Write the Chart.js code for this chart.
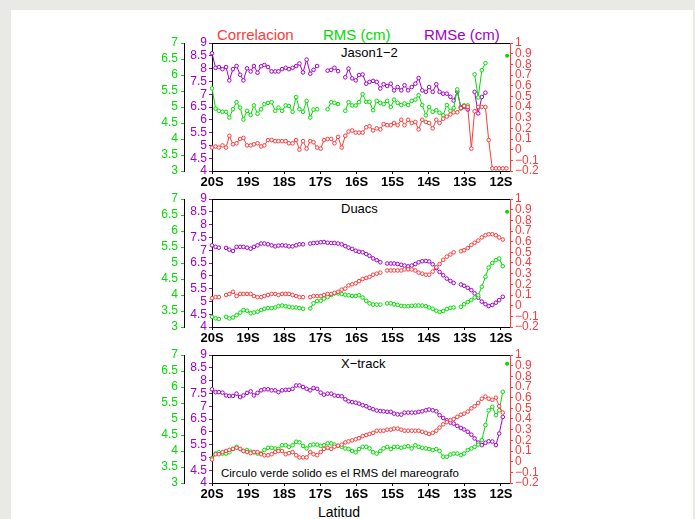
<!DOCTYPE html>
<html>
<head>
<meta charset="utf-8">
<script src="https://cdn.jsdelivr.net/npm/chart.js@4/dist/chart.umd.min.js"></script>
<style>
  body { margin: 0; background: #e9eae5; font-family: "Liberation Sans", Arial, sans-serif; }
  #sheet { position: absolute; left: 11px; top: 10px; width: 682px; height: 509px; background: #fff; }
  canvas { position: absolute; left: 140px; }
  .t { position: absolute; white-space: nowrap; line-height: 1; }
</style>
</head>
<body>
<div id="sheet"></div>
<div class="t" style="left:217px;top:27px;font-size:15px;color:rgb(250,60,60)">Correlacion</div>
<div class="t" style="left:323px;top:27px;font-size:15px;color:rgb(0,220,0)">RMS (cm)</div>
<div class="t" style="left:424px;top:27px;font-size:15px;color:rgb(160,0,200)">RMSe (cm)</div>
<div class="t" style="left:341px;top:46px;font-size:13px">Jason1−2</div>
<div class="t" style="left:341px;top:202px;font-size:13px">Duacs</div>
<div class="t" style="left:341px;top:357px;font-size:13px">X−track</div>
<div class="t" style="left:221px;top:468px;font-size:11.5px">Circulo verde solido es el RMS del mareografo</div>
<div class="t" style="left:318px;top:505px;font-size:14px">Latitud</div>
<canvas id="c1" width="415" height="164" style="top:31px"></canvas>
<canvas id="c2" width="415" height="164" style="top:187px"></canvas>
<canvas id="c3" width="415" height="164" style="top:343px"></canvas>
<script>
// latitude of each along-track point (degrees, negative = south)
const lat = [
  -20.00, -19.90, -19.81, -19.71, -19.61, -19.52, -19.42, -19.32, -19.22, -19.13,
  -19.03, -18.93, -18.84, -18.74, -18.64, -18.55, -18.45, -18.35, -18.25, -18.16,
  -18.06, -17.96, -17.87, -17.77, -17.67, -17.58, -17.48, -17.38, -17.28, -17.19,
  -17.09, -16.99, -16.90, -16.80, -16.70, -16.61, -16.51, -16.41, -16.31, -16.22,
  -16.12, -16.02, -15.93, -15.83, -15.73, -15.64, -15.54, -15.44, -15.34, -15.25,
  -15.15, -15.05, -14.96, -14.86, -14.76, -14.67, -14.57, -14.47, -14.37, -14.28,
  -14.18, -14.08, -13.99, -13.89, -13.79, -13.70, -13.60, -13.50, -13.40, -13.31,
  -13.21, -13.11, -13.02, -12.92, -12.82, -12.73, -12.63, -12.53, -12.43, -12.34,
  -12.24, -12.14, -12.05, -11.95, -11.85
];

const latTicks = [-20, -19, -18, -17, -16, -15, -14, -13, -12];
const rmseTicks = [4, 4.5, 5, 5.5, 6, 6.5, 7, 7.5, 8, 8.5, 9];
const rmsTicks = [3, 3.5, 4, 4.5, 5, 5.5, 6, 6.5, 7];
const corrTicks = [-0.2, -0.1, 0, 0.1, 0.2, 0.3, 0.4, 0.5, 0.6, 0.7, 0.8, 0.9, 1];

// Jason1-2
const jasonRmse = [
  8.60, 8.03, 8.06, 7.98, 8.06, 7.54, 7.98, 8.10, 7.76, 7.54,
  8.01, 7.89, 8.10, 7.84, 8.09, 8.14, 8.06, 7.89, 7.89, 7.89,
  7.98, 8.03, 7.98, 8.03, 8.10, 8.20, 7.85, 8.35, 7.80, 7.95,
  8.10, null, null, 7.92, 7.95, 8.03, 7.90, null, 7.66, 8.00,
  7.62, 7.54, 7.75, 7.77, 7.41, 7.48, 7.52, 7.48, 7.22, 7.39,
  7.32, 7.41, 7.15, 7.28, 7.15, 7.35, 7.15, 7.28, 7.41, 7.63,
  7.15, 7.09, 7.28, 7.09, 7.39, 7.09, 7.02, 7.02, 6.90, 6.75,
  7.10, 6.50, 6.50, 6.40, null, 7.09, 6.25, 6.89, 7.06, null,
  null, null, null, null, null
];
const jasonRms = [
  5.58, 4.95, 4.88, 4.85, 4.85, 4.67, 4.93, 5.15, 4.98, 4.61,
  4.88, 4.75, 5.05, 4.79, 4.93, 5.09, 5.13, 5.15, 4.88, 4.98,
  4.88, 5.05, 5.03, 4.85, 5.31, 4.93, 4.85, 5.19, 4.67, 4.92,
  4.93, null, null, 4.93, 5.15, 5.13, 5.09, null, 4.88, 5.15,
  5.05, 5.05, 5.15, 5.40, 5.16, 5.16, 4.90, 5.19, 5.13, 5.09,
  5.19, 5.00, 5.23, 5.13, 5.06, 5.11, 5.06, 5.19, 5.23, 5.37,
  5.06, 4.74, 5.00, 4.85, 4.90, 4.82, 4.74, 5.06, 4.88, 4.97,
  5.55, 4.95, 5.05, 5.05, null, 6.02, 5.30, 6.15, 6.37, null,
  null, null, null, null, null
];
const jasonCorr = [
  0.02, 0.03, 0.02, 0.04, 0.02, 0.13, 0.05, 0.06, 0.10, 0.11,
  0.04, 0.04, 0.05, 0.06, 0.03, 0.04, 0.09, 0.09, 0.08, 0.08,
  0.08, 0.08, 0.06, 0.06, 0.09, 0.00, 0.08, 0.01, 0.08, 0.07,
  0.02, 0.01, 0.09, 0.10, 0.10, 0.06, 0.12, 0.02, 0.13, 0.17,
  0.18, 0.16, 0.16, 0.16, 0.21, 0.22, 0.18, 0.20, 0.19, 0.24,
  0.23, 0.23, 0.25, 0.23, 0.28, 0.23, 0.28, 0.25, 0.26, 0.19,
  0.28, 0.26, 0.25, 0.20, 0.28, 0.25, 0.29, 0.31, 0.33, 0.35,
  0.35, 0.39, 0.41, 0.40, 0.01, 0.36, 0.40, 0.40, 0.40, 0.09,
  -0.175, -0.175, -0.175, -0.175, -0.175
];

// Duacs
const duacsRmse = [
  7.19, 7.13, 7.10, null, 7.09, 7.02, 6.97, 7.13, 7.13, 7.13,
  7.10, 7.06, 7.13, 7.19, 7.26, 7.26, 7.23, 7.19, 7.15, 7.18,
  7.19, 7.18, 7.15, 7.15, 7.19, 7.23, 7.23, null, 7.26, 7.28,
  7.29, 7.31, 7.32, 7.29, 7.28, 7.28, 7.26, 7.23, 7.16, 7.10,
  7.05, 6.98, 6.94, 6.92, 6.85, 6.78, 6.68, 6.61, 6.53, null,
  6.48, 6.48, 6.48, 6.46, 6.43, 6.40, 6.37, 6.40, 6.46, 6.53,
  6.57, 6.58, 6.56, 6.45, 6.30, 6.15, 6.02, 5.89, 5.80, 5.72,
  null, 5.66, 5.61, 5.53, 5.44, 5.31, 5.15, 4.99, 4.89, 4.82,
  4.86, 4.95, 5.05, 5.18, null
];
const duacsRms = [
  3.32, 3.27, 3.25, null, 3.32, 3.27, 3.30, 3.37, 3.45, 3.53,
  3.51, 3.43, 3.45, 3.48, 3.53, 3.57, 3.59, 3.59, 3.61, 3.65,
  3.67, 3.65, 3.63, 3.61, 3.61, 3.59, 3.57, null, 3.58, 3.74,
  3.81, 3.82, 3.89, 3.94, 4.00, 4.05, 4.05, 4.03, 4.01, 3.99,
  3.97, 3.97, 3.99, 3.92, 3.82, 3.74, 3.70, 3.70, 3.70, null,
  3.74, 3.74, 3.71, 3.69, 3.66, 3.65, 3.65, 3.66, 3.67, 3.67,
  3.67, 3.65, 3.61, 3.57, 3.51, 3.47, 3.50, 3.56, 3.60, 3.61,
  null, 3.63, 3.71, 3.78, 3.84, 3.92, 3.99, 4.26, 4.57, 4.86,
  5.00, 5.09, 5.14, 4.90, null
];
const duacsCorr = [
  0.07, 0.08, 0.08, null, 0.10, 0.11, 0.13, 0.09, 0.11, 0.11,
  0.11, 0.11, 0.09, 0.08, 0.08, 0.09, 0.10, 0.11, 0.11, 0.10,
  0.11, 0.11, 0.11, 0.10, 0.09, 0.08, 0.08, null, 0.08, 0.09,
  0.09, 0.09, 0.10, 0.11, 0.11, 0.12, 0.13, 0.15, 0.16, 0.19,
  0.20, 0.21, 0.23, 0.25, 0.26, 0.27, 0.29, 0.30, 0.31, null,
  0.33, 0.33, 0.33, 0.33, 0.33, 0.34, 0.34, 0.34, 0.33, 0.31,
  0.30, 0.29, 0.29, 0.32, 0.36, 0.39, 0.43, 0.46, 0.48, 0.50,
  null, 0.51, 0.52, 0.54, 0.57, 0.59, 0.61, 0.64, 0.66, 0.67,
  0.67, 0.66, 0.64, 0.62, null
];

// X-track
const xtrackRmse = [
  7.66, 7.55, 7.55, 7.53, 7.42, 7.40, 7.40, 7.49, 7.36, 7.42,
  7.52, 7.58, 7.42, 7.52, 7.62, 7.66, 7.66, 7.62, 7.62, 7.55,
  7.62, 7.64, 7.64, 7.68, 7.81, 7.81, 7.75, 7.68, 7.62, 7.71,
  7.68, 7.53, 7.45, 7.49, 7.49, 7.42, 7.40, 7.39, 7.27, 7.19,
  7.16, 7.14, 7.10, 7.04, 7.00, 6.93, 6.88, 6.83, 6.81, 6.80,
  6.78, 6.78, 6.71, 6.68, 6.67, 6.75, 6.75, 6.75, 6.75, 6.78,
  6.80, 6.84, 6.87, 6.84, 6.80, 6.65, 6.54, 6.45, 6.36, 6.32,
  6.23, 6.15, 6.09, 6.00, 5.89, 5.74, 5.58, 5.48, 5.57, 5.63,
  5.62, 5.48, 5.93, 6.58, null
];
const xtrackRms = [
  3.78, 3.92, 3.96, 3.92, 3.92, 3.96, 4.06, 4.13, 4.06, 4.00,
  4.03, 3.98, 3.96, 3.92, 3.92, 4.03, 4.10, 4.10, 4.08, 4.06,
  4.18, 4.18, 4.13, 4.18, 4.29, 4.27, 4.16, 4.08, 4.18, 4.20,
  4.20, 4.16, 4.18, 4.24, 4.24, 4.20, 4.16, 4.13, 4.08, 4.06,
  4.00, 3.96, 4.06, 4.13, 4.13, 4.08, 3.96, 3.92, 4.00, 4.08,
  4.13, 4.06, 4.13, 4.13, 4.10, 4.13, 4.15, 4.08, 4.18, 4.13,
  4.10, 4.08, 4.06, 4.03, 4.06, 4.00, 3.82, 3.82, 3.89, 3.92,
  3.92, 3.87, 3.92, 4.03, 4.08, 4.13, 4.20, 4.34, 4.81, 5.27,
  5.38, 5.12, 5.27, 5.85, null
];
const xtrackCorr = [
  0.02, 0.07, 0.07, 0.09, 0.10, 0.11, 0.12, 0.13, 0.12, 0.10,
  0.09, 0.08, 0.09, 0.09, 0.07, 0.06, 0.06, 0.07, 0.09, 0.10,
  0.10, 0.07, 0.08, 0.09, 0.06, 0.04, 0.04, 0.04, 0.09, 0.07,
  0.06, 0.09, 0.12, 0.13, 0.12, 0.14, 0.15, 0.16, 0.18, 0.19,
  0.20, 0.21, 0.22, 0.24, 0.25, 0.26, 0.27, 0.29, 0.29, 0.29,
  0.30, 0.30, 0.31, 0.31, 0.30, 0.29, 0.29, 0.29, 0.29, 0.29,
  0.28, 0.27, 0.26, 0.27, 0.29, 0.32, 0.35, 0.37, 0.39, 0.40,
  0.42, 0.44, 0.45, 0.47, 0.50, 0.52, 0.55, 0.59, 0.61, 0.59,
  0.58, 0.60, 0.52, 0.46, null
];

// tide gauge RMS (solid green dot), one per panel
const gaugeLat = -11.83;
const gaugeRms = [6.6, 6.6, 6.73];

const RED = "rgb(250,60,60)";
const GREEN = "rgb(0,220,0)";
const PURPLE = "rgb(160,0,200)";

const pts = (arr) => lat.map((x, i) => ({ x, y: arr[i] }));
const fix = (v) => Math.round(v * 10) / 10;
const setTicks = (list) => (scale) => { scale.ticks = list.map((v) => ({ value: v })); };

function series(arr, color, axis) {
  return {
    data: pts(arr),
    yAxisID: axis,
    borderColor: color,
    borderWidth: 1,
    pointRadius: 1.8,
    pointBorderWidth: 1,
    pointBorderColor: color,
    pointBackgroundColor: "#fff",
    spanGaps: false,
    tension: 0,
    clip: 4,
  };
}

// top edge of the plot frame
const frameTop = {
  id: "frameTop",
  afterDraw(chart) {
    const { ctx, chartArea } = chart;
    ctx.save();
    ctx.strokeStyle = "#000";
    ctx.lineWidth = 1;
    ctx.beginPath();
    ctx.moveTo(chartArea.left, chartArea.top + 0.5);
    ctx.lineTo(chartArea.right, chartArea.top + 0.5);
    ctx.stroke();
    ctx.restore();
  },
};

function panel(id, rmse, rms, corr, gauge) {
  const tickFont = { family: "'Liberation Sans', Arial", size: 12 };
  new Chart(document.getElementById(id), {
    type: "line",
    data: {
      datasets: [
        {
          data: [{ x: gaugeLat, y: gauge }],
          yAxisID: "yG",
          showLine: false,
          pointRadius: 2,
          pointBorderWidth: 0,
          pointBackgroundColor: GREEN,
          clip: 4,
        },
        series(corr, RED, "yR"),
        series(rms, GREEN, "yG"),
        series(rmse, PURPLE, "yP"),
      ],
    },
    options: {
      responsive: false,
      animation: false,
      devicePixelRatio: 1,
      events: [],
      layout: { padding: { left: 10, top: 12, right: 5, bottom: 2 } },
      plugins: { legend: { display: false }, tooltip: { enabled: false } },
      scales: {
        x: {
          type: "linear",
          min: -20,
          max: -11.75,
          afterBuildTicks: setTicks(latTicks),
          afterFit: (s) => { s.height = 22; },
          ticks: {
            autoSkip: false,
            maxRotation: 0,
            padding: 1,
            color: "#000",
            font: { family: "'Liberation Sans', Arial", size: 13, weight: "bold" },
            callback: (v) => -v + "S",
          },
          grid: { drawOnChartArea: false, tickLength: 3, color: "#000" },
          border: { color: "#000" },
        },
        yP: {
          position: "left",
          weight: 0,
          min: 4,
          max: 9,
          afterBuildTicks: setTicks(rmseTicks),
          afterFit: (s) => { s.width = 28; },
          ticks: { autoSkip: false, padding: 2, color: PURPLE, font: tickFont, callback: (v) => String(fix(v)) },
          grid: { drawOnChartArea: false, tickLength: 3, color: PURPLE },
          border: { color: "#000" },
        },
        yG: {
          position: "left",
          weight: 1,
          min: 3,
          max: 7,
          afterBuildTicks: setTicks(rmsTicks),
          afterFit: (s) => { s.width = 34; },
          ticks: { autoSkip: false, padding: 3, color: GREEN, font: tickFont, callback: (v) => String(fix(v)) },
          grid: { drawOnChartArea: false, tickLength: 3, color: GREEN },
          border: { color: "#000" },
        },
        yR: {
          position: "right",
          min: -0.2,
          max: 1,
          afterBuildTicks: setTicks(corrTicks),
          afterFit: (s) => { s.width = 40; },
          ticks: {
            autoSkip: false,
            padding: 2,
            color: RED,
            font: tickFont,
            callback: (v) => (fix(v) < 0 ? "−" + Math.abs(fix(v)) : String(fix(v))),
          },
          grid: { drawOnChartArea: false, tickLength: 3, color: RED },
          border: { color: RED },
        },
      },
    },
    plugins: [frameTop],
  });
}

panel("c1", jasonRmse, jasonRms, jasonCorr, gaugeRms[0]);
panel("c2", duacsRmse, duacsRms, duacsCorr, gaugeRms[1]);
panel("c3", xtrackRmse, xtrackRms, xtrackCorr, gaugeRms[2]);
</script>
</body>
</html>
